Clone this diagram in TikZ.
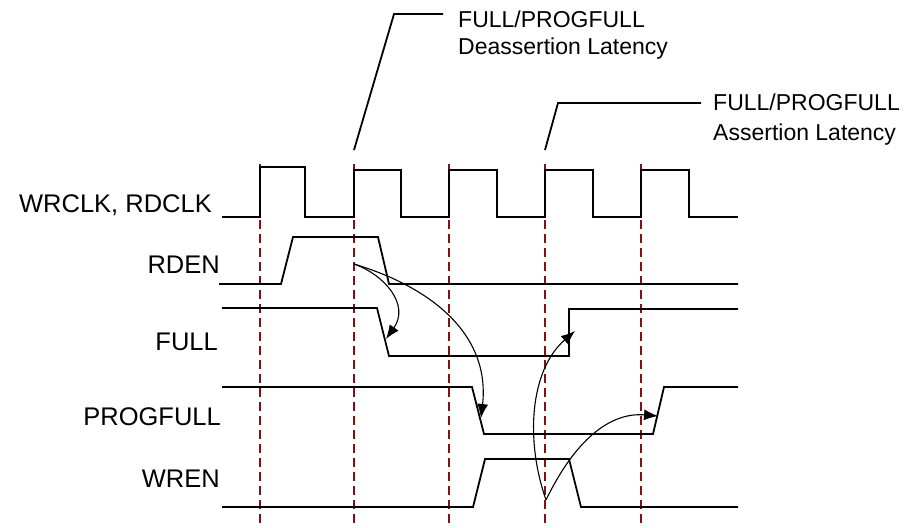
\documentclass[tikz,border=0pt]{standalone}
\usepackage{fontspec}
\setmainfont{Liberation Sans}
\usepackage{tikz}
\usetikzlibrary{arrows.meta}

\definecolor{gridred}{RGB}{130,18,18}

\begin{document}
\begin{tikzpicture}[x=1pt,y=-1pt,
	sig/.style={line width=1.8pt,line join=miter},
	lead/.style={line width=1.8pt},
	tick/.style={gridred,line width=1.1pt,dash pattern=on 9pt off 5pt},
	arr/.style={line width=1.1pt,-{Latex[length=14pt,width=11pt]}},
	siglabel/.style={anchor=base east,inner sep=0pt,font=\fontsize{25.5}{30}\selectfont},
	note/.style={anchor=base west,inner sep=0pt,align=left,font=\fontsize{23}{27}\selectfont}]
	\useasboundingbox (0,0) rectangle (909,527);

	\foreach \x in {260,354,449,545,641}
		\draw[tick] (\x,164) -- (\x,527);

	\node[siglabel] (clkL) at (212,212) {WRCLK, RDCLK};
	\node[siglabel] (rdenL) at (220,273) {RDEN};
	\node[siglabel] (fullL) at (218,350) {FULL};
	\node[siglabel] (pfullL) at (221,425) {PROGFULL};
	\node[siglabel] (wrenL) at (220,487) {WREN};

	\draw[sig] (222,217) -- (260,217) -- (260,167) -- (305,167) -- (305,217) -- (354,217) -- (354,170) -- (401,170) -- (401,217)
		-- (449,217) -- (449,170) -- (497,170) -- (497,217) -- (545,217) -- (545,170) -- (593,170) -- (593,217)
		-- (641,217) -- (641,170) -- (689,170) -- (689,217) -- (738,217);
	\draw[sig] (219,284) -- (281,284) -- (293,237) -- (378,237) -- (389,284) -- (738,284);
	\draw[sig] (222,308) -- (377,308) -- (389,356) -- (569,356) -- (569,309) -- (738,309);
	\draw[sig] (222,387) -- (472,387) -- (484,434) -- (653,434) -- (664,387) -- (738,387);
	\draw[sig] (222,507) -- (473,507) -- (485,459) -- (569,459) -- (581,507) -- (738,507);

	\node[note] (deassertTxt) at (458,55) {FULL/PROGFULL\\Deassertion Latency};
	\node[note] (assertTxt) at (713,140) {FULL/PROGFULL\\[3pt]Assertion Latency};
	\coordinate (deassertEnd) at (443,14);
	\coordinate (assertEnd) at (701,103);
	\draw[lead] (354,150) -- (394,14) -- (deassertEnd);
	\draw[lead] (545,150) -- (558,103) -- (assertEnd);

	% cause -> effect
	\coordinate (rdenHit) at (354,264);
	\coordinate (wrenHit) at (546,500);
	\coordinate (fullFall) at (386,339);
	\coordinate (pfullFall) at (481,418);
	\coordinate (fullRise) at (575,331);
	\coordinate (pfullRise) at (658,416);
	\draw[arr] (rdenHit) .. controls (385,275) and (410,305) .. (fullFall);
	\draw[arr] (rdenHit) .. controls (440,290) and (490,340) .. (pfullFall);
	\draw[arr] (wrenHit) .. controls (525,440) and (530,370) .. (fullRise);
	\draw[arr] (wrenHit) .. controls (575,440) and (610,412) .. (pfullRise);
\end{tikzpicture}
\end{document}
